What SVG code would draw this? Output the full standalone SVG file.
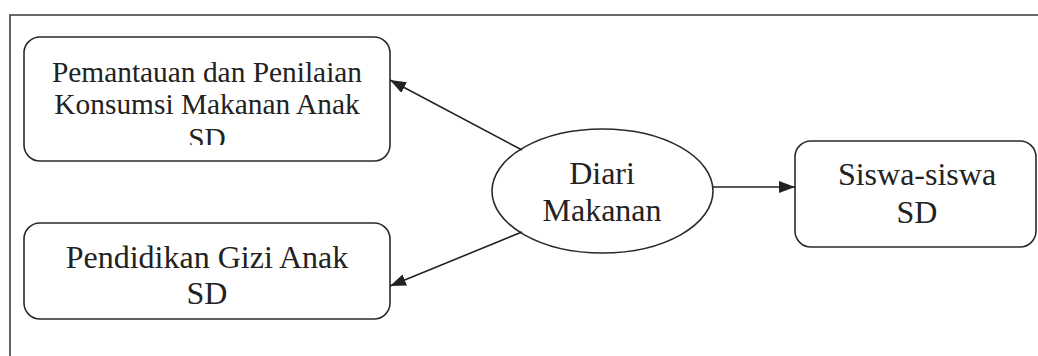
<svg xmlns="http://www.w3.org/2000/svg" width="1038" height="356" viewBox="0 0 1038 356">
<style>
.frame{fill:none;stroke:#3a3a3a;stroke-width:1.6}
.box{fill:#fff;stroke:#2a2a2a;stroke-width:1.6}
.lbl{font-family:"Liberation Serif","Times New Roman",serif;font-size:32px;fill:#222;text-anchor:middle}
.sm{font-size:29.4px}
.conn{stroke:#222;stroke-width:1.6;fill:none}
</style>
<defs>
<marker id="ahl" viewBox="0 0 16 12" refX="16" refY="6" markerWidth="16" markerHeight="12" markerUnits="userSpaceOnUse" orient="auto">
<path d="M0,0 L16,6 L0,12 Z" fill="#222"/>
</marker>
<clipPath id="c1"><rect x="24" y="37" width="366" height="108"/></clipPath>
</defs>
<rect width="1038" height="356" fill="#fff"/>
<path class="frame" d="M10,356 L10,15 L1038,15"/>
<g id="node-pemantauan">
<rect class="box" x="24" y="37" width="366" height="124" rx="16"/>
<g clip-path="url(#c1)">
<text class="lbl sm" x="207" y="82">Pemantauan dan Penilaian</text>
<text class="lbl sm" x="207" y="114">Konsumsi Makanan Anak</text>
<text class="lbl sm" x="207" y="148">SD</text>
</g>
</g>
<g id="node-pendidikan">
<rect class="box" x="24" y="223" width="366" height="96" rx="16"/>
<text class="lbl" x="207" y="268">Pendidikan Gizi Anak</text>
<text class="lbl" x="207" y="304">SD</text>
</g>
<g id="node-diari">
<ellipse class="box" cx="602.5" cy="191" rx="110.5" ry="62"/>
<text class="lbl" x="602" y="184">Diari</text>
<text class="lbl" x="602" y="221">Makanan</text>
</g>
<g id="node-siswa">
<rect class="box" x="795" y="141" width="241" height="106" rx="16"/>
<text class="lbl" x="917" y="185">Siswa-siswa</text>
<text class="lbl" x="917" y="223">SD</text>
</g>
<g id="connectors">
<line class="conn" x1="522" y1="150" x2="390" y2="80" marker-end="url(#ahl)"/>
<line class="conn" x1="522" y1="232" x2="390" y2="286" marker-end="url(#ahl)"/>
<line class="conn" x1="713" y1="187" x2="795" y2="187" marker-end="url(#ahl)"/>
</g>
</svg>
